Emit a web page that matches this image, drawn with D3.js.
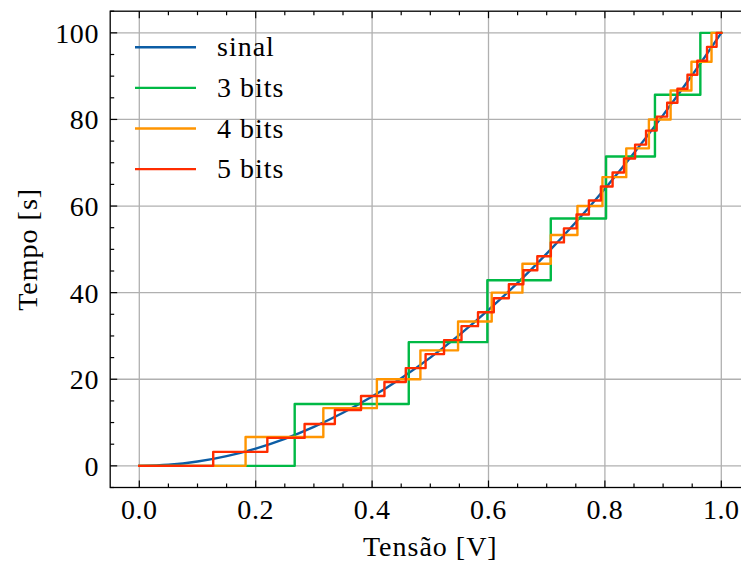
<!DOCTYPE html>
<html><head><meta charset="utf-8">
<script src="https://cdn.jsdelivr.net/npm/d3@7/dist/d3.min.js"></script>
<style>
html,body{margin:0;padding:0;background:#fff;}
svg{display:block;}
text{font-family:"Liberation Serif","Times New Roman",serif;fill:#000;}
</style></head>
<body>
<svg id="chart" width="741" height="565"></svg>
<script>
// ---- data ----
const sinalX = [0,0.05,0.1,0.15,0.2,0.25,0.3,0.35,0.4,0.45,0.5,0.55,0.6,0.65,0.7,0.75,0.8,0.85,0.9,0.95,1.0];
const sinalY = [0,0.25,1,2.25,4,6.25,9,12.25,16,20.25,25,30.25,36,42.25,49,56.25,64,72.25,81,90.25,100];

const bits3Edges = [0,0.267,0.463,0.598,0.707,0.802,0.886,0.964];
const bits3Levels = [0,14.29,28.57,42.86,57.14,71.43,85.71,100];

const bits4Edges = [0,0.1826,0.3162,0.4082,0.4830,0.5477,0.6055,0.6583,0.7071,0.7528,0.7958,0.8367,0.8756,0.9129,0.9487,0.9832];
const bits4Levels = [0,6.67,13.33,20,26.67,33.33,40,46.67,53.33,60,66.67,73.33,80,86.67,93.33,100];

const bits5Edges = [0,0.1270,0.2200,0.2840,0.3360,0.3810,0.4212,0.4579,0.4919,0.5236,0.5536,0.5820,0.6091,0.6350,0.6599,0.6839,0.7071,0.7296,0.7513,0.7725,0.7931,0.8132,0.8328,0.8519,0.8707,0.8890,0.9070,0.9246,0.9419,0.9588,0.9755,0.9919];
const bits5Levels = [0,3.23,6.45,9.68,12.90,16.13,19.35,22.58,25.81,29.03,32.26,35.48,38.71,41.94,45.16,48.39,51.61,54.84,58.06,61.29,64.52,67.74,70.97,74.19,77.42,80.65,83.87,87.10,90.32,93.55,96.77,100];

const xEnd = 1.0;
const seriesNames = ["sinal","3 bits","4 bits","5 bits"];
const seriesColors = ["#0C5DA5","#00B945","#FF9500","#FF2C00"];
const xTicks = [0,0.2,0.4,0.6,0.8,1.0];
const yTicks = [0,20,40,60,80,100];
const xLabel = "Tensão [V]";
const yLabel = "Tempo [s]";

// ---- layout ----
const svg = d3.select("#chart");
const L = 110.2, R = 750.4, T = 11.2, B = 487.5;
const x = d3.scaleLinear().domain([-0.05,1.05]).range([L,R]);
const y = d3.scaleLinear().domain([-5,105]).range([B,T]);
const FS = 28;

// grid
const grid = svg.append("g");
xTicks.forEach(v => grid.append("line").attr("x1",x(v)).attr("x2",x(v)).attr("y1",T).attr("y2",B)
  .attr("stroke","#b0b0b0").attr("stroke-width",1.3));
yTicks.forEach(v => grid.append("line").attr("x1",L).attr("x2",R).attr("y1",y(v)).attr("y2",y(v))
  .attr("stroke","#b0b0b0").attr("stroke-width",1.3));

// lines
const plot = svg.append("g");
const sinalPts = sinalX.map((v,i)=>[v,sinalY[i]]);
const smooth = d3.line().x(d=>x(d[0])).y(d=>y(d[1])).curve(d3.curveMonotoneX);
const step = d3.line().x(d=>x(d[0])).y(d=>y(d[1])).curve(d3.curveStepAfter);
function stepPts(edges, levels){
  const p = edges.map((e,i)=>[e,levels[i]]);
  p.push([xEnd, levels[levels.length-1]]);
  return p;
}
const paths = [
  smooth(sinalPts),
  step(stepPts(bits3Edges,bits3Levels)),
  step(stepPts(bits4Edges,bits4Levels)),
  step(stepPts(bits5Edges,bits5Levels))
];
paths.forEach((d,i)=>plot.append("path").attr("d",d).attr("fill","none")
  .attr("stroke",seriesColors[i]).attr("stroke-width",2.4)
  .attr("stroke-linejoin","round").attr("stroke-linecap","square"));

// frame + ticks (inward on all sides)
const ax = svg.append("g").attr("stroke","#000");
ax.append("rect").attr("x",L).attr("y",T).attr("width",R-L).attr("height",B-T)
  .attr("fill","none").attr("stroke-width",1.3);
const xMinor = d3.range(0,21).map(i=>i*0.05);
const yMinor = d3.range(-1,22).map(i=>i*5).filter(v=>v>=-5&&v<=105);
const isMajX = v => xTicks.some(t=>Math.abs(t-v)<1e-6);
const isMajY = v => yTicks.some(t=>Math.abs(t-v)<1e-6);
xMinor.forEach(v=>{
  const len = isMajX(v)?7:4;
  ax.append("line").attr("x1",x(v)).attr("x2",x(v)).attr("y1",B).attr("y2",B-len).attr("stroke-width",1.2);
  ax.append("line").attr("x1",x(v)).attr("x2",x(v)).attr("y1",T).attr("y2",T+len).attr("stroke-width",1.2);
});
yMinor.forEach(v=>{
  const len = isMajY(v)?7:4;
  ax.append("line").attr("x1",L).attr("x2",L+len).attr("y1",y(v)).attr("y2",y(v)).attr("stroke-width",1.2);
  ax.append("line").attr("x1",R).attr("x2",R-len).attr("y1",y(v)).attr("y2",y(v)).attr("stroke-width",1.2);
});

// tick labels
xTicks.forEach(v=>svg.append("text").attr("x",x(v)).attr("y",519).attr("text-anchor","middle")
  .attr("font-size",FS).attr("letter-spacing",0.6).text(v.toFixed(1)));
yTicks.forEach(v=>svg.append("text").attr("x",99).attr("y",y(v)+10).attr("text-anchor","end")
  .attr("font-size",FS).attr("letter-spacing",0.6).text(String(v)));

// axis labels
svg.append("text").attr("x",(L+R)/2).attr("y",556).attr("text-anchor","middle")
  .attr("font-size",FS).attr("letter-spacing",1).text(xLabel);
svg.append("text").attr("transform",`translate(37,${(T+B)/2}) rotate(-90)`).attr("text-anchor","middle")
  .attr("font-size",FS).attr("letter-spacing",1).text(yLabel);

// legend
const lg = svg.append("g");
seriesNames.forEach((n,i)=>{
  const yy = 47.3 + i*40.6;
  lg.append("line").attr("x1",135).attr("x2",196).attr("y1",yy).attr("y2",yy)
    .attr("stroke",seriesColors[i]).attr("stroke-width",2.4);
  lg.append("text").attr("x",217).attr("y",yy+9).attr("font-size",FS).attr("letter-spacing",1).text(n);
});
</script>
</body></html>
